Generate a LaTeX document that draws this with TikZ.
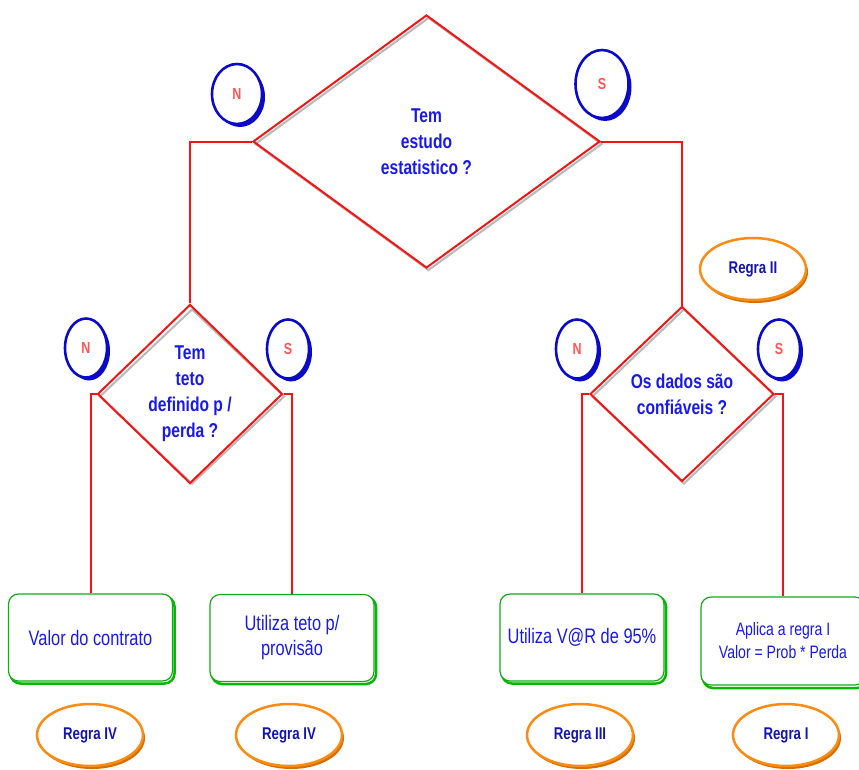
\documentclass[tikz,border=0pt]{standalone}
\usepackage{fontspec}
\setmainfont{Liberation Sans}
\newfontfamily\nfont[FakeStretch=0.78]{Liberation Sans}
\usetikzlibrary{shapes.geometric}
\definecolor{lred}{RGB}{245,20,20}
\definecolor{tblue}{RGB}{25,25,235}
\definecolor{dblue}{RGB}{20,20,175}
\definecolor{cblue}{RGB}{10,10,200}
\definecolor{sred}{RGB}{255,85,85}
\definecolor{gborder}{RGB}{20,170,20}
\definecolor{gshadow}{RGB}{0,185,0}
\definecolor{oborder}{RGB}{250,140,20}
\definecolor{oshadow}{RGB}{215,110,0}
\definecolor{dshadow}{RGB}{185,185,185}
\tikzset{
  con/.style={draw=lred, line width=2pt},
  dia/.style={shape=diamond, draw=lred, line width=2pt, inner sep=0pt, align=center,
    font=\nfont\bfseries\fontsize{20}{26}\selectfont, text=tblue},
  diash/.style={shape=diamond, draw=dshadow, line width=2pt, inner sep=0pt},
  box/.style={draw=gborder, line width=1.2pt, fill=white, rounded corners=10pt,
    minimum width=164pt, minimum height=87pt, align=center, text=tblue, inner sep=0pt},
  boxsh/.style={draw=gshadow, line width=2.5pt, rounded corners=10pt,
    minimum width=164pt, minimum height=87pt, inner sep=0pt},
  yn/.style={shape=ellipse, draw=cblue, line width=2.6pt, fill=white, inner sep=0pt,
    text=sred, font=\nfont\bfseries\fontsize{16}{16}\selectfont},
  ynsh/.style={shape=ellipse, fill=cblue, inner sep=0pt},
  regra/.style={shape=ellipse, draw=oborder, line width=2.5pt, fill=white, inner sep=0pt,
    minimum width=106pt, minimum height=62pt, text=dblue,
    font=\nfont\bfseries\fontsize{17}{17}\selectfont},
  regrash/.style={shape=ellipse, fill=oshadow, inner sep=0pt,
    minimum width=106pt, minimum height=62pt}
}
\begin{document}
\begin{tikzpicture}[x=1pt,y=-1pt]
\useasboundingbox (0,0) rectangle (859,769);
% diamond shadows
\node[diash, minimum width=347pt, minimum height=253pt] (dAs) at (428.5,144) {};
\node[diash, minimum width=185pt, minimum height=175pt] (dLs) at (192,396.5) {};
\node[diash, minimum width=184pt, minimum height=175pt] (dRs) at (684,396.5) {};
% diamonds
\node[dia, minimum width=347pt, minimum height=253pt] (dA) at (426.5,141.5) {Tem\\estudo\\estatistico ?};
\node[dia, minimum width=185pt, minimum height=175pt] (dL) at (190,394) {Tem\\teto\\definido p /\\perda ?};
\node[dia, minimum width=184pt, minimum height=175pt] (dR) at (682,394) {Os dados são\\confiáveis ?};
% box shadows
\node[boxsh] (b1s) at (92.5,640) {};
\node[boxsh] (b2s) at (294,640.5) {};
\node[boxsh] (b3s) at (584,640) {};
\node[boxsh, minimum height=88pt] (b4s) at (785,644) {};
% boxes
\node[box, font=\nfont\fontsize{21}{25}\selectfont] (b1) at (90.5,637.5) {Valor do contrato};
\node[box, font=\nfont\fontsize{21}{25}\selectfont] (b2) at (292,638) {Utiliza teto p/\\provisão};
\node[box, font=\nfont\fontsize{21}{25}\selectfont] (b3) at (582,637.5) {Utiliza V@R de 95\%};
\node[box, minimum height=88pt, font=\nfont\fontsize{18}{23}\selectfont] (b4) at (783,641) {Aplica a regra I\\Valor = Prob * Perda};
% connectors
\draw[con] (dA.west) -| (dL.north);
\draw[con] (dA.east) -| (dR.north);
\draw[con] (dL.west) -| (b1.north);
\draw[con] (dL.east) -| (b2.north);
\draw[con] (dR.west) -| (b3.north);
\draw[con] (dR.east) -| (b4.north);
% N / S markers
\node[ynsh, minimum width=50pt, minimum height=60pt] (nAs) at (240,97) {};
\node[yn, minimum width=50pt, minimum height=60pt] (nA) at (237,94) {N};
\node[ynsh, minimum width=53pt, minimum height=68pt] (sAs) at (605,87) {};
\node[yn, minimum width=53pt, minimum height=68pt] (sA) at (602,84) {S};
\node[ynsh, minimum width=42pt, minimum height=59pt] (nLs) at (89,351) {};
\node[yn, minimum width=42pt, minimum height=59pt] (nL) at (86,348) {N};
\node[ynsh, minimum width=42pt, minimum height=59pt] (sLs) at (291,352) {};
\node[yn, minimum width=42pt, minimum height=59pt] (sL) at (288,349) {S};
\node[ynsh, minimum width=42pt, minimum height=59pt] (nRs) at (580,352) {};
\node[yn, minimum width=42pt, minimum height=59pt] (nR) at (577,349) {N};
\node[ynsh, minimum width=42pt, minimum height=59pt] (sRs) at (782,352) {};
\node[yn, minimum width=42pt, minimum height=59pt] (sR) at (779,349) {S};
% Regra ellipses
\node[regrash] (r2s) at (755,272) {};
\node[regra] (r2) at (753,269) {Regra II};
\node[regrash] (r4as) at (92,738) {};
\node[regra] (r4a) at (90,735) {Regra IV};
\node[regrash] (r4bs) at (291,738) {};
\node[regra] (r4b) at (289,735) {Regra IV};
\node[regrash] (r3s) at (582,738) {};
\node[regra] (r3) at (580,735) {Regra III};
\node[regrash] (r1s) at (788,738) {};
\node[regra] (r1) at (786,735) {Regra I};
\end{tikzpicture}
\end{document}
